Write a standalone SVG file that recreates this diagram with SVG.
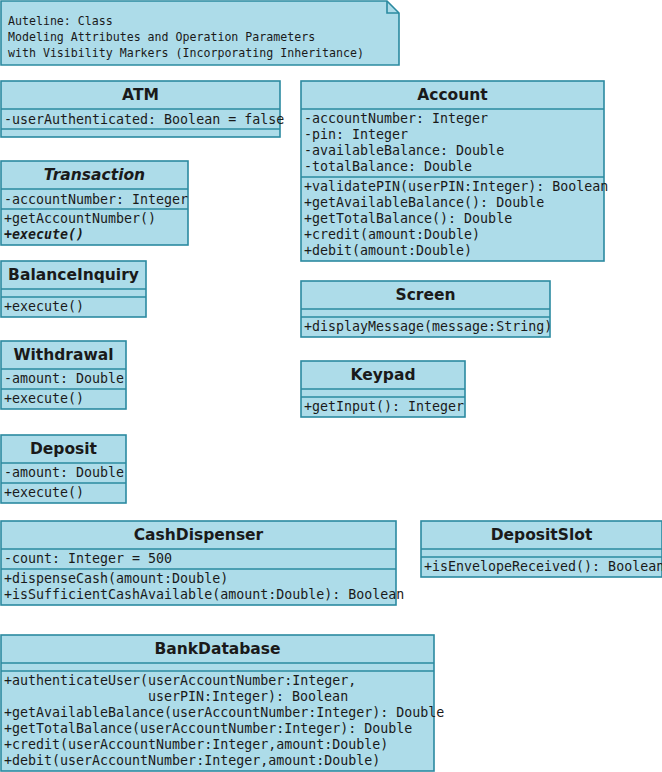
<svg xmlns="http://www.w3.org/2000/svg" width="662" height="772" viewBox="0 0 662 772">
<style>
.box{fill:#ADDCE9;stroke:#2B8AA0;stroke-width:1.6}
.ln{stroke:#2B8AA0;stroke-width:1.6;fill:none}
.t{font-family:"DejaVu Sans",sans-serif;font-weight:bold;font-size:15.5px;fill:#1a1a1a;text-anchor:middle}
.ti{font-style:italic}
.m{font-family:"DejaVu Sans Mono",monospace;font-size:13.3px;fill:#1a1a1a}
.mi{font-style:italic;font-weight:bold}
.n{font-family:"DejaVu Sans Mono",monospace;font-size:11.6px;fill:#1a1a1a}
</style>
<rect width="662" height="772" fill="#ffffff"/>
<g id="note">
<path class="box" d="M1 1 H387 L399 13 V65 H1 Z"/>
<path class="ln" d="M387 1 V13 H399"/>
<text class="n" x="8" y="25">Auteline: Class</text>
<text class="n" x="8" y="41">Modeling Attributes and Operation Parameters</text>
<text class="n" x="8" y="57">with Visibility Markers (Incorporating Inheritance)</text>
</g>
<g id="ATM">
<rect class="box" x="1" y="81" width="279" height="56"/>
<path class="ln" d="M1 109 H280 M1 129 H280"/>
<text class="t" x="140.5" y="99.5">ATM</text>
<text class="m" x="4" y="123.5">-userAuthenticated: Boolean = false</text>
</g>
<g id="Account">
<rect class="box" x="301" y="81" width="303" height="180"/>
<path class="ln" d="M301 109 H604 M301 177 H604"/>
<text class="t" x="452.5" y="99.5">Account</text>
<text class="m" x="304" y="122.5">-accountNumber: Integer</text>
<text class="m" x="304" y="138.5">-pin: Integer</text>
<text class="m" x="304" y="154.5">-availableBalance: Double</text>
<text class="m" x="304" y="170.5">-totalBalance: Double</text>
<text class="m" x="304" y="190.5">+validatePIN(userPIN:Integer): Boolean</text>
<text class="m" x="304" y="206.5">+getAvailableBalance(): Double</text>
<text class="m" x="304" y="222.5">+getTotalBalance(): Double</text>
<text class="m" x="304" y="238.5">+credit(amount:Double)</text>
<text class="m" x="304" y="254.5">+debit(amount:Double)</text>
</g>
<g id="Transaction">
<rect class="box" x="1" y="161" width="187" height="84"/>
<path class="ln" d="M1 189 H188 M1 209 H188"/>
<text class="t ti" x="94.5" y="179.5">Transaction</text>
<text class="m" x="4" y="203.5">-accountNumber: Integer</text>
<text class="m" x="4" y="222.5">+getAccountNumber()</text>
<text class="m mi" x="4" y="238.5">+execute()</text>
</g>
<g id="BalanceInquiry">
<rect class="box" x="1" y="261" width="145" height="56"/>
<path class="ln" d="M1 289 H146 M1 297 H146"/>
<text class="t" x="73.5" y="279.5">BalanceInquiry</text>
<text class="m" x="4" y="310.5">+execute()</text>
</g>
<g id="Screen">
<rect class="box" x="301" y="281" width="249" height="56"/>
<path class="ln" d="M301 309 H550 M301 317 H550"/>
<text class="t" x="425.5" y="299.5">Screen</text>
<text class="m" x="304" y="330.5">+displayMessage(message:String)</text>
</g>
<g id="Withdrawal">
<rect class="box" x="1" y="341" width="125" height="68"/>
<path class="ln" d="M1 369 H126 M1 389 H126"/>
<text class="t" x="63.5" y="359.5">Withdrawal</text>
<text class="m" x="4" y="382.5">-amount: Double</text>
<text class="m" x="4" y="402.5">+execute()</text>
</g>
<g id="Keypad">
<rect class="box" x="301" y="361" width="164" height="56"/>
<path class="ln" d="M301 389 H465 M301 397 H465"/>
<text class="t" x="383" y="379.5">Keypad</text>
<text class="m" x="304" y="410.5">+getInput(): Integer</text>
</g>
<g id="Deposit">
<rect class="box" x="1" y="435" width="125" height="68"/>
<path class="ln" d="M1 463 H126 M1 483 H126"/>
<text class="t" x="63.5" y="453.5">Deposit</text>
<text class="m" x="4" y="476.5">-amount: Double</text>
<text class="m" x="4" y="496.5">+execute()</text>
</g>
<g id="CashDispenser">
<rect class="box" x="1" y="521" width="395" height="84"/>
<path class="ln" d="M1 549 H396 M1 569 H396"/>
<text class="t" x="198.5" y="539.5">CashDispenser</text>
<text class="m" x="4" y="562.5">-count: Integer = 500</text>
<text class="m" x="4" y="582.5">+dispenseCash(amount:Double)</text>
<text class="m" x="4" y="598.5">+isSufficientCashAvailable(amount:Double): Boolean</text>
</g>
<g id="DepositSlot">
<rect class="box" x="421" y="521" width="241" height="56"/>
<path class="ln" d="M421 549 H662 M421 557 H662"/>
<text class="t" x="541.5" y="539.5">DepositSlot</text>
<text class="m" x="424" y="570.5">+isEnvelopeReceived(): Boolean</text>
</g>
<g id="BankDatabase">
<rect class="box" x="1" y="635" width="433" height="136"/>
<path class="ln" d="M1 663 H434 M1 671 H434"/>
<text class="t" x="217.5" y="653.5">BankDatabase</text>
<text class="m" x="4" y="684.5">+authenticateUser(userAccountNumber:Integer,</text>
<text class="m" x="148" y="700.5">userPIN:Integer): Boolean</text>
<text class="m" x="4" y="716.5">+getAvailableBalance(userAccountNumber:Integer): Double</text>
<text class="m" x="4" y="732.5">+getTotalBalance(userAccountNumber:Integer): Double</text>
<text class="m" x="4" y="748.5">+credit(userAccountNumber:Integer,amount:Double)</text>
<text class="m" x="4" y="764.5">+debit(userAccountNumber:Integer,amount:Double)</text>
</g>
<g id="connectors"></g>
</svg>
